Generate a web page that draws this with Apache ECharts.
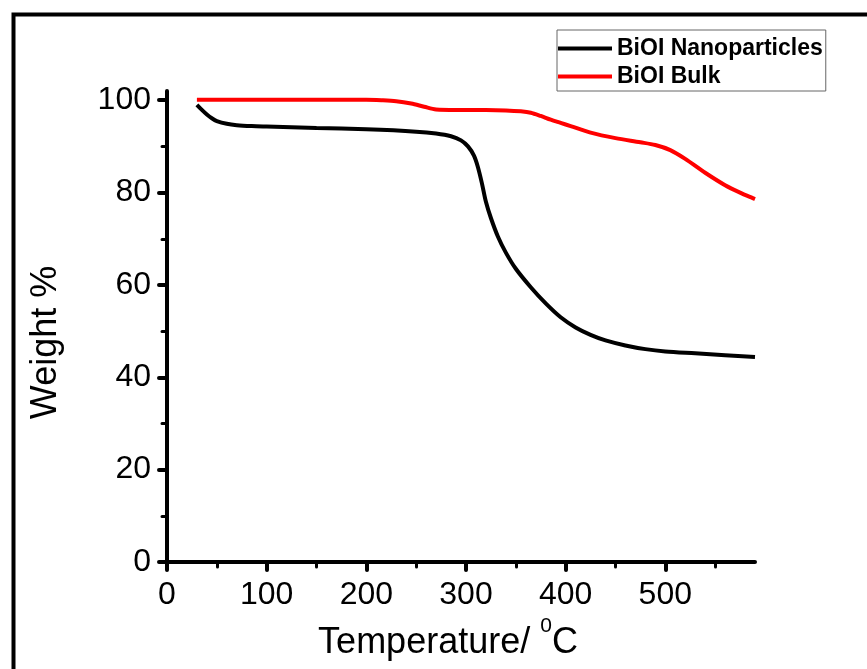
<!DOCTYPE html>
<html>
<head>
<meta charset="utf-8">
<script src="https://cdn.jsdelivr.net/npm/echarts@6/dist/echarts.min.js"></script>
<style>
html,body{margin:0;padding:0;background:#fff;}
#chart{width:867px;height:669px;}
</style>
</head>
<body>
<div id="chart"></div>
<script>
// Temperature (°C) and weight (%) readings
const nanoTemp = [30,35,40,45,50,60,70,85,100,150,200,250,270,285,295,302,308,312,316,320,325,332,340,350,365,380,395,410,425,440,460,480,500,530,560,590];
const nanoWeight = [99.0,97.9,96.9,96.1,95.5,94.9,94.6,94.4,94.3,94.0,93.7,93.2,92.8,92.2,91.3,90.0,88.0,85.5,82.0,78.0,74.5,70.5,67.0,63.5,59.5,56.0,53.0,50.8,49.2,48.0,46.9,46.1,45.6,45.2,44.8,44.4];
const bulkTemp = [30,100,200,215,230,245,258,270,290,320,340,355,365,375,385,395,405,425,450,475,490,505,520,540,560,575,590];
const bulkWeight = [100.1,100.1,100.1,100.0,99.8,99.3,98.6,98.0,97.9,97.9,97.8,97.6,97.3,96.6,95.8,95.1,94.4,93.0,91.8,90.9,90.3,89.2,87.3,84.3,81.6,80.0,78.6];
const seriesNames = ['BiOI Nanoparticles','BiOI Bulk'];
const xTicks = [0,100,200,300,400,500];
const yTicks = [0,20,40,60,80,100];

const font = '"Liberation Sans", Arial, sans-serif';
const chart = echarts.init(document.getElementById('chart'), null, {renderer:'canvas'});
const zip = (a,b)=>a.map((v,i)=>[v,b[i]]);
chart.setOption({
  animation:false,
  backgroundColor:'#fff',
  graphic:[{type:'rect', left:11, top:12, shape:{x:0,y:0,width:900,height:700}, style:{fill:'none',stroke:'#000',lineWidth:4}, silent:true}],
  grid:{left:167, right:112, top:91, bottom:107, containLabel:false},
  legend:{
    orient:'vertical', left:557, top:30,
    data:seriesNames,
    icon:'rect', itemWidth:54, itemHeight:4, itemGap:5,
    padding:[7,3,3,1],
    borderColor:'#666', borderWidth:1,
    textStyle:{fontFamily:font, fontWeight:'bold', fontSize:23, color:'#000'}
  },
  xAxis:{
    type:'value', min:0, max:590, interval:100,
    name:'Temperature/ {sup|0}C', nameLocation:'middle', nameGap:48,
    nameTextStyle:{fontFamily:font, fontSize:36, color:'#000', padding:[0,26,0,0], rich:{sup:{fontFamily:font, fontSize:21, color:'#000', padding:[0,0,34,0]}}},
    axisLine:{show:true, onZero:false, lineStyle:{color:'#000', width:4, cap:'round'}},
    axisTick:{show:true, inside:false, length:8, customValues:xTicks, lineStyle:{color:'#000', width:4, cap:'round'}},
    minorTick:{show:true, splitNumber:2, length:5, lineStyle:{color:'#000', width:3, cap:'round'}},
    axisLabel:{customValues:xTicks, fontFamily:font, fontSize:32, color:'#000', margin:17},
    splitLine:{show:false}
  },
  yAxis:{
    type:'value', min:0, max:102, interval:20,
    name:'Weight %', nameLocation:'middle', nameGap:103,
    nameTextStyle:{fontFamily:font, fontSize:36, color:'#000', padding:[0,32,0,0]},
    axisLine:{show:true, onZero:false, lineStyle:{color:'#000', width:4, cap:'round'}},
    axisTick:{show:true, inside:false, length:8, customValues:yTicks, lineStyle:{color:'#000', width:4, cap:'round'}},
    minorTick:{show:true, splitNumber:2, length:5, lineStyle:{color:'#000', width:3, cap:'round'}},
    axisLabel:{customValues:yTicks, fontFamily:font, fontSize:32, color:'#000', margin:16},
    splitLine:{show:false}
  },
  series:[
    {name:seriesNames[0], type:'line', data:zip(nanoTemp,nanoWeight), smooth:0.3, showSymbol:false, lineStyle:{color:'#000', width:4}, itemStyle:{color:'#000'}},
    {name:seriesNames[1], type:'line', data:zip(bulkTemp,bulkWeight), smooth:0.3, showSymbol:false, lineStyle:{color:'#ff0000', width:4}, itemStyle:{color:'#ff0000'}}
  ]
});
</script>
</body>
</html>
